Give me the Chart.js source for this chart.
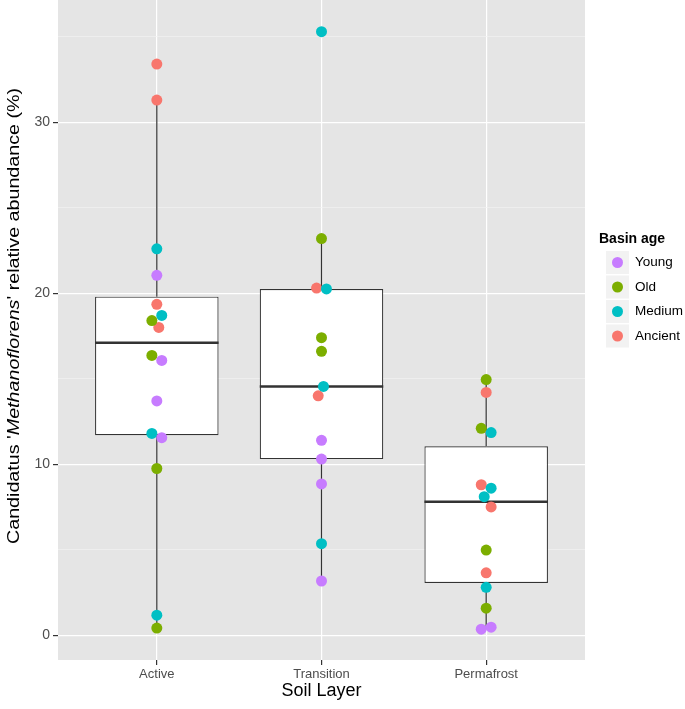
<!DOCTYPE html>
<html>
<head>
<meta charset="utf-8">
<script src="https://cdn.jsdelivr.net/npm/chart.js@4.4.0/dist/chart.umd.min.js"></script>
<style>
  html, body { margin: 0; padding: 0; background: #fff; }
  #wrap { width: 685px; height: 709px; position: relative; }
</style>
</head>
<body>
<div id="wrap"><canvas id="myChart"></canvas></div>
<script>
var layers = ["Active", "Transition", "Permafrost"];
var ages = ["Young", "Old", "Medium", "Ancient"];
var ageColors = ["#C77CFF", "#7CAE00", "#00BFC4", "#F8766D"];

// box statistics per soil layer
var whiskerLow = [0.42, 3.17, 0.35];
var q1 = [11.7, 10.3, 3.05];
var median = [17.1, 14.55, 7.8];
var q3 = [19.8, 20.25, 11.05];
var whiskerHigh = [31.3, 23.2, 14.95];

// samples: [layer index, abundance %, jitter]
var young = [[0, 21.05, 0], [0, 16.07, 0.03], [0, 13.7, 0], [0, 11.55, 0.03],
             [1, 11.4, 0], [1, 10.3, 0], [1, 8.85, 0], [1, 3.17, 0],
             [2, 0.35, -0.03], [2, 0.47, 0.03]];
var old = [[0, 18.4, -0.03], [0, 16.36, -0.03], [0, 9.75, 0], [0, 0.42, 0],
           [1, 23.2, 0], [1, 17.4, 0], [1, 16.6, 0],
           [2, 14.95, 0], [2, 12.1, -0.03], [2, 4.98, 0], [2, 1.58, 0]];
var medium = [[0, 22.6, 0], [0, 18.7, 0.03], [0, 11.8, -0.03], [0, 1.17, 0],
              [1, 35.3, 0], [1, 20.25, 0.03], [1, 14.55, 0.012], [1, 5.35, 0],
              [2, 11.85, 0.03], [2, 8.6, 0.03], [2, 8.1, -0.012], [2, 2.8, 0]];
var ancient = [[0, 33.4, 0], [0, 31.3, 0], [0, 19.35, 0], [0, 18.0, 0.012],
               [1, 20.3, -0.03], [1, 14.0, -0.02],
               [2, 14.2, 0], [2, 8.8, -0.03], [2, 7.5, 0.03], [2, 3.65, 0]];

var yTicks = [0, 5, 10, 15, 20, 25, 30, 35];
var boxWidth = 0.75;

Chart.defaults.font.family = "'Liberation Sans', Arial, Helvetica, sans-serif";

var samples = [young, old, medium, ancient];
var pointSets = ages.map(function(age, k) {
    return {
        type: 'scatter',
        label: age,
        order: 0,
        data: samples[k].map(function(s) { return {x: s[0] + 1 + s[2], y: s[1]}; }),
        backgroundColor: ageColors[k],
        borderWidth: 0,
        pointRadius: 5.5,
        pointHoverRadius: 5.5
    };
});

var whiskerData = [], medianData = [], boxData = [];
layers.forEach(function(l, i) {
    var x = i + 1;
    whiskerData.push({x: x, y: whiskerLow[i]}, {x: x, y: q1[i]}, {x: x, y: null},
                     {x: x, y: q3[i]}, {x: x, y: whiskerHigh[i]}, {x: x, y: null});
    medianData.push({x: x - boxWidth / 2, y: median[i]}, {x: x + boxWidth / 2, y: median[i]}, {x: x, y: null});
    boxData.push({x: x, y: [q1[i], q3[i]]});
});

// grey panel behind the plot
var panelBg = {
    id: 'panelBg',
    beforeDraw: function(chart) {
        var a = chart.chartArea, c = chart.ctx;
        c.save();
        c.fillStyle = '#E5E5E5';
        c.fillRect(a.left, a.top, a.right - a.left, a.bottom - a.top);
        c.restore();
    }
};

// y title with italic genus name
var yTitle = {
    id: 'yTitle',
    afterDraw: function(chart) {
        var c = chart.ctx;
        var parts = [["Candidatus '", ''], ['Methanoflorens', 'italic '], ["' relative abundance (%)", '']];
        var size = 16, fam = Chart.defaults.font.family;
        c.save();
        var total = 0;
        parts.forEach(function(p) { c.font = p[1] + size + 'px ' + fam; total += c.measureText(p[0]).width; });
        c.translate(15, 316);
        c.rotate(-Math.PI / 2);
        c.scale(1.23, 1);
        c.fillStyle = '#000';
        c.textBaseline = 'middle';
        var x = -total / 2;
        parts.forEach(function(p) {
            c.font = p[1] + size + 'px ' + fam;
            c.fillText(p[0], x, 0);
            x += c.measureText(p[0]).width;
        });
        c.restore();
    }
};

// ggplot-like legend with grey keys
var ageLegend = {
    id: 'ageLegend',
    afterDraw: function(chart) {
        var c = chart.ctx, fam = Chart.defaults.font.family;
        var left = 599, top = 239, step = 24.5, key = 23;
        c.save();
        c.textBaseline = 'middle';
        c.fillStyle = '#000';
        c.font = 'bold 14px ' + fam;
        c.fillText('Basin age', left, top);
        ages.forEach(function(age, k) {
            var ky = top + 12 + k * step;
            c.fillStyle = '#F2F2F2';
            c.fillRect(left + 7, ky, key, key);
            c.fillStyle = ageColors[k];
            c.beginPath();
            c.arc(left + 7 + key / 2, ky + key / 2, 5.5, 0, Math.PI * 2);
            c.fill();
            c.fillStyle = '#000';
            c.font = '13.5px ' + fam;
            c.fillText(age, left + 36, ky + key / 2);
        });
        c.restore();
    }
};

var ctx = document.getElementById('myChart').getContext('2d');
var chart = new Chart(ctx, {
    type: 'scatter',
    data: {
        datasets: pointSets.concat([
            {
                type: 'line',
                label: 'median',
                order: 1,
                data: medianData,
                borderColor: '#333333',
                borderWidth: 2.5,
                pointRadius: 0,
                spanGaps: false,
                fill: false
            },
            {
                type: 'bar',
                label: 'box',
                order: 2,
                data: boxData,
                backgroundColor: '#FFFFFF',
                borderColor: '#333333',
                borderWidth: 1.2,
                borderSkipped: false,
                categoryPercentage: 1,
                barPercentage: boxWidth
            },
            {
                type: 'line',
                label: 'whisker',
                order: 3,
                data: whiskerData,
                borderColor: '#333333',
                borderWidth: 1.2,
                pointRadius: 0,
                spanGaps: false,
                fill: false
            }
        ])
    },
    options: {
        responsive: true,
        maintainAspectRatio: false,
        animation: false,
        layout: { autoPadding: false, padding: { top: 0, right: 100, left: 0, bottom: 0 } },
        plugins: {
            legend: { display: false },
            tooltip: { enabled: false }
        },
        scales: {
            x: {
                type: 'linear',
                min: 0.4,
                max: 3.6,
                offset: false,
                afterBuildTicks: function(s) { s.ticks = layers.map(function(l, i) { return {value: i + 1}; }); },
                afterFit: function(s) { s.height = 49; s.paddingLeft = 0; s.paddingRight = 0; },
                ticks: {
                    color: '#4D4D4D',
                    font: { size: 13 },
                    padding: 2,
                    maxRotation: 0,
                    callback: function(v) { return layers[v - 1]; }
                },
                grid: { offset: false, color: '#FFFFFF', lineWidth: 1.2, tickColor: '#333333', tickLength: 5 },
                border: { display: false },
                title: { display: true, text: 'Soil Layer', color: '#000', font: { size: 18 }, padding: { top: 0, bottom: 7 } }
            },
            y: {
                type: 'linear',
                min: -1.45,
                max: 37.15,
                afterBuildTicks: function(s) { s.ticks = yTicks.map(function(v) { return {value: v}; }); },
                afterFit: function(s) { s.width = 58; s.paddingTop = 0; s.paddingBottom = 0; },
                ticks: {
                    color: '#4D4D4D',
                    font: { size: 14 },
                    padding: 3,
                    callback: function(v) { return v % 10 === 0 ? v : ''; }
                },
                grid: {
                    color: function(c) { return c.tick && c.tick.value % 10 === 0 ? '#FFFFFF' : '#F2F2F2'; },
                    lineWidth: function(c) { return c.tick && c.tick.value % 10 === 0 ? 1.2 : 0.7; },
                    tickColor: function(c) { return c.tick && c.tick.value % 10 === 0 ? '#333333' : 'rgba(0,0,0,0)'; },
                    tickLength: 5
                },
                border: { display: false }
            }
        }
    },
    plugins: [panelBg, yTitle, ageLegend]
});
</script>
</body>
</html>
